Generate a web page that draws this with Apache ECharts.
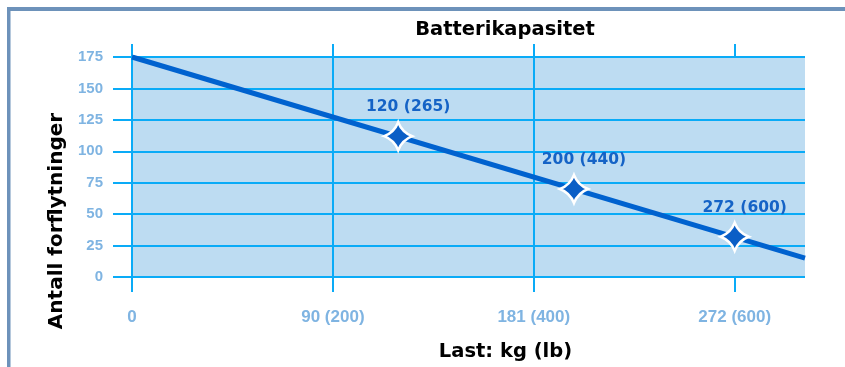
<!DOCTYPE html>
<html>
<head>
<meta charset="utf-8">
<title>Batterikapasitet</title>
<script src="https://cdn.jsdelivr.net/npm/echarts@6/dist/echarts.min.js"></script>
<style>
  html, body { margin: 0; padding: 0; background: #ffffff; }
  #chart { width: 845px; height: 367px; }
</style>
</head>
<body>
<div id="chart"></div>
<script>
// Load (x) in pounds, with the matching kilogram figures for the tick labels
const tickLb = [0, 200, 400, 600];
const tickKg = [0, 90, 181, 272];

// Capacity line: number of moves versus load (lb)
const lineLb = [0, 670];
const lineMoves = [175, 15];

// Highlighted load points
const pointKg = [120, 200, 272];
const pointLb = [265, 440, 600];
const pointMoves = [112, 70, 32];

const gridColor = '#0aabf7';
const tickColor = '#7fb4e2';
const nameFont = '"DejaVu Sans", sans-serif';
const tickFont = '"Liberation Sans", Arial, sans-serif';

const chart = echarts.init(document.getElementById('chart'), null, { renderer: 'canvas' });

function lbLabel(v) {
  const i = tickLb.indexOf(v);
  if (i < 0) return '';
  return v === 0 ? String(tickKg[i]) : tickKg[i] + ' (' + tickLb[i] + ')';
}

const xCommon = {
  type: 'value',
  min: 0,
  max: 670,
  interval: 200,
  axisLine: { show: false }
};

chart.setOption({
  animation: false,
  backgroundColor: '#ffffff',
  graphic: [
    { type: 'rect', z: 10, shape: { x: 7, y: 7, width: 845, height: 4 }, style: { fill: '#6d92ba' } },
    { type: 'rect', z: 10, shape: { x: 7, y: 7, width: 3.5, height: 367 }, style: { fill: '#6d92ba' } },
    {
      type: 'text', x: 505, y: 30, z: 10,
      style: {
        text: 'Batterikapasitet', fill: '#000000',
        font: 'bold 19.5px ' + nameFont, align: 'center', verticalAlign: 'middle'
      }
    }
  ],
  grid: {
    left: 132, right: 40, top: 57, bottom: 89,
    show: true, backgroundColor: '#bddcf2', borderWidth: 0
  },
  xAxis: [
    Object.assign({}, xCommon, {
      position: 'bottom',
      axisTick: { show: true, length: 15, customValues: tickLb, lineStyle: { color: gridColor, width: 2 } },
      axisLabel: {
        customValues: tickLb,
        margin: 32,
        color: tickColor,
        fontFamily: tickFont,
        fontWeight: 'bold',
        fontSize: 17,
        formatter: lbLabel
      },
      splitLine: { show: true, showMaxLine: false, lineStyle: { color: gridColor, width: 2 } },
      name: 'Last: kg (lb)',
      nameLocation: 'middle',
      nameGap: 65,
      nameTextStyle: {
        color: '#000000', fontFamily: nameFont, fontWeight: 'bold', fontSize: 19.5,
        padding: [0, 0, 0, 74]
      }
    }),
    Object.assign({}, xCommon, {
      position: 'top',
      axisTick: { show: true, length: 13, customValues: tickLb, lineStyle: { color: gridColor, width: 2 } },
      axisLabel: { show: false },
      splitLine: { show: false }
    })
  ],
  yAxis: {
    type: 'value',
    min: 0,
    max: 175,
    interval: 25,
    axisLine: { show: false },
    axisTick: { show: true, length: 19, lineStyle: { color: gridColor, width: 2 } },
    axisLabel: {
      margin: 29,
      color: tickColor,
      fontFamily: tickFont,
      fontWeight: 'bold',
      fontSize: 15
    },
    splitLine: { show: true, lineStyle: { color: gridColor, width: 2 } },
    name: 'Antall forflytninger',
    nameLocation: 'middle',
    nameGap: 64,
    nameTextStyle: {
      color: '#000000', fontFamily: nameFont, fontWeight: 'bold', fontSize: 20,
      padding: [0, 108, 0, 0]
    }
  },
  series: [
    {
      type: 'line',
      xAxisIndex: 0,
      data: lineLb.map((x, i) => [x, lineMoves[i]]),
      showSymbol: false,
      symbol: 'none',
      lineStyle: { color: '#0062cf', width: 5 },
      z: 3
    },
    {
      type: 'scatter',
      xAxisIndex: 0,
      data: pointLb.map((x, i) => [x, pointMoves[i], pointKg[i]]),
      symbol: 'path://M0,-10 Q2.8,-2.8 10,0 Q2.8,2.8 0,10 Q-2.8,2.8 -10,0 Q-2.8,-2.8 0,-10 Z',
      symbolSize: 28,
      itemStyle: { color: '#0a5ec6', borderColor: '#ffffff', borderWidth: 2.5, opacity: 1 },
      label: {
        show: true,
        position: 'top',
        distance: 6,
        offset: [10, 0],
        color: '#1563c6',
        fontFamily: nameFont,
        fontWeight: 'bold',
        fontSize: 15.5,
        formatter: p => p.value[2] + ' (' + p.value[0] + ')'
      },
      z: 4
    }
  ]
});
</script>
</body>
</html>
